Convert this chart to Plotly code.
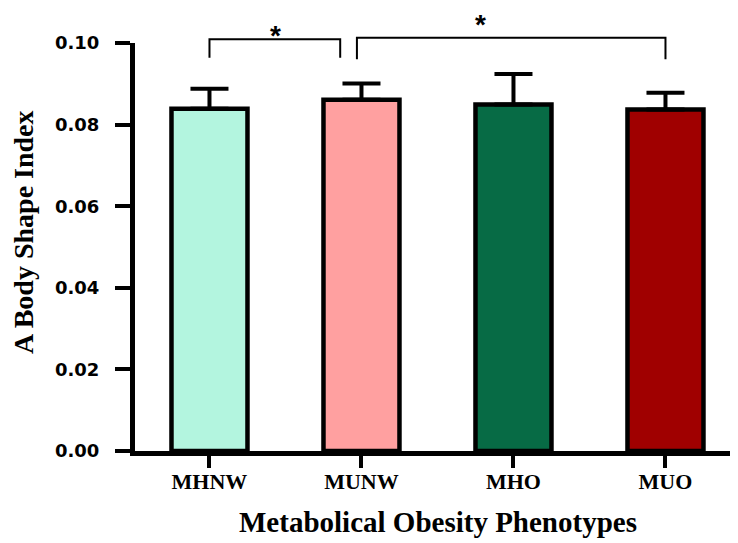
import plotly.graph_objects as go

categories = ["MHNW", "MUNW", "MHO", "MUO"]
means = [0.0839, 0.0861, 0.0849, 0.0837]
errors = [0.0049, 0.0040, 0.0075, 0.0041]
colors = ["#b3f5df", "#ffa0a0", "#076b45", "#a00000"]
y_ticks = [0.00, 0.02, 0.04, 0.06, 0.08, 0.10]
x_title = "Metabolical Obesity Phenotypes"
y_title = "A Body Shape Index"

# significance brackets: (x_left, x_right, y_top, y_leg_end, star_x, star_box_top)
brackets = [
    (0.0, 0.86, 0.1009, 0.0964, 0.39, 0.1058),
    (0.97, 3.0, 0.1013, 0.0960, 1.78, 0.1085),
]

XMIN, XMAX = -0.49, 3.51
YMIN, YMAX = 0.0, 0.10
L, R, T, B = 127, 3, 35, 100
W, H = 738, 543
PW, PH = W - L - R, H - T - B

fig = go.Figure()
fig.add_trace(go.Bar(
    x=list(range(len(categories))), y=means,
    width=0.5,
    marker=dict(color=colors, line=dict(color="black", width=4.5)),
    error_y=dict(type="data", array=errors, symmetric=False, arrayminus=[0]*4,
                 color="black", thickness=4, width=19),
))

def px(x):
    return (x - XMIN) / (XMAX - XMIN)

def py(y):
    return (y - YMIN) / (YMAX - YMIN)

shapes = []
annotations = []
for xl, xr, yt, ye, sx, sy in brackets:
    shapes.append(dict(type="path", xref="paper", yref="paper",
                       path=f"M {px(xl)} {py(ye)} L {px(xl)} {py(yt)} L {px(xr)} {py(yt)} L {px(xr)} {py(ye)}",
                       line=dict(color="black", width=2)))
    annotations.append(dict(x=px(sx), y=py(sy), xref="paper", yref="paper",
                            text="<b>*</b>", showarrow=False, yanchor="top", borderpad=0,
                            font=dict(family="Liberation Sans", size=28, color="black")))

# axis titles placed as annotations (pixel positions converted to paper coords)
annotations.append(dict(x=(430 - L) / PW, y=(T + PH - 514) / PH, xref="paper", yref="paper",
                        text=f"<b>{x_title}</b>", showarrow=False,
                        xanchor="center", yanchor="middle",
                        font=dict(family="Liberation Serif", size=29, color="black")))
annotations.append(dict(x=(15 - L) / PW, y=(T + PH - 224) / PH, xref="paper", yref="paper",
                        text=f"<b>{y_title}</b>", showarrow=False, textangle=-90,
                        xanchor="center", yanchor="middle",
                        font=dict(family="Liberation Serif", size=28, color="black")))

fig.update_layout(
    width=W, height=H,
    margin=dict(l=L, r=R, t=T, b=B),
    plot_bgcolor="white", paper_bgcolor="white",
    showlegend=False,
    shapes=shapes, annotations=annotations,
    xaxis=dict(
        range=[XMIN, XMAX],
        tickmode="array", tickvals=list(range(len(categories))), ticktext=categories,
        showline=True, linecolor="black", linewidth=5,
        ticks="outside", ticklen=12, tickwidth=4, tickcolor="black",
        ticklabelstandoff=-5,
        showgrid=False, zeroline=False,
        tickfont=dict(family="Liberation Serif", size=22, color="black", weight="bold"),
    ),
    yaxis=dict(
        range=[YMIN, YMAX],
        tickmode="array", tickvals=y_ticks, ticktext=[f"{v:.2f}" for v in y_ticks],
        showline=True, linecolor="black", linewidth=5,
        ticks="outside", ticklen=15, tickwidth=4, tickcolor="black",
        ticklabelstandoff=12,
        showgrid=False, zeroline=False,
        tickfont=dict(family="DejaVu Sans", size=18, color="black", weight="bold"),
    ),
)

fig.write_html("out.html")
